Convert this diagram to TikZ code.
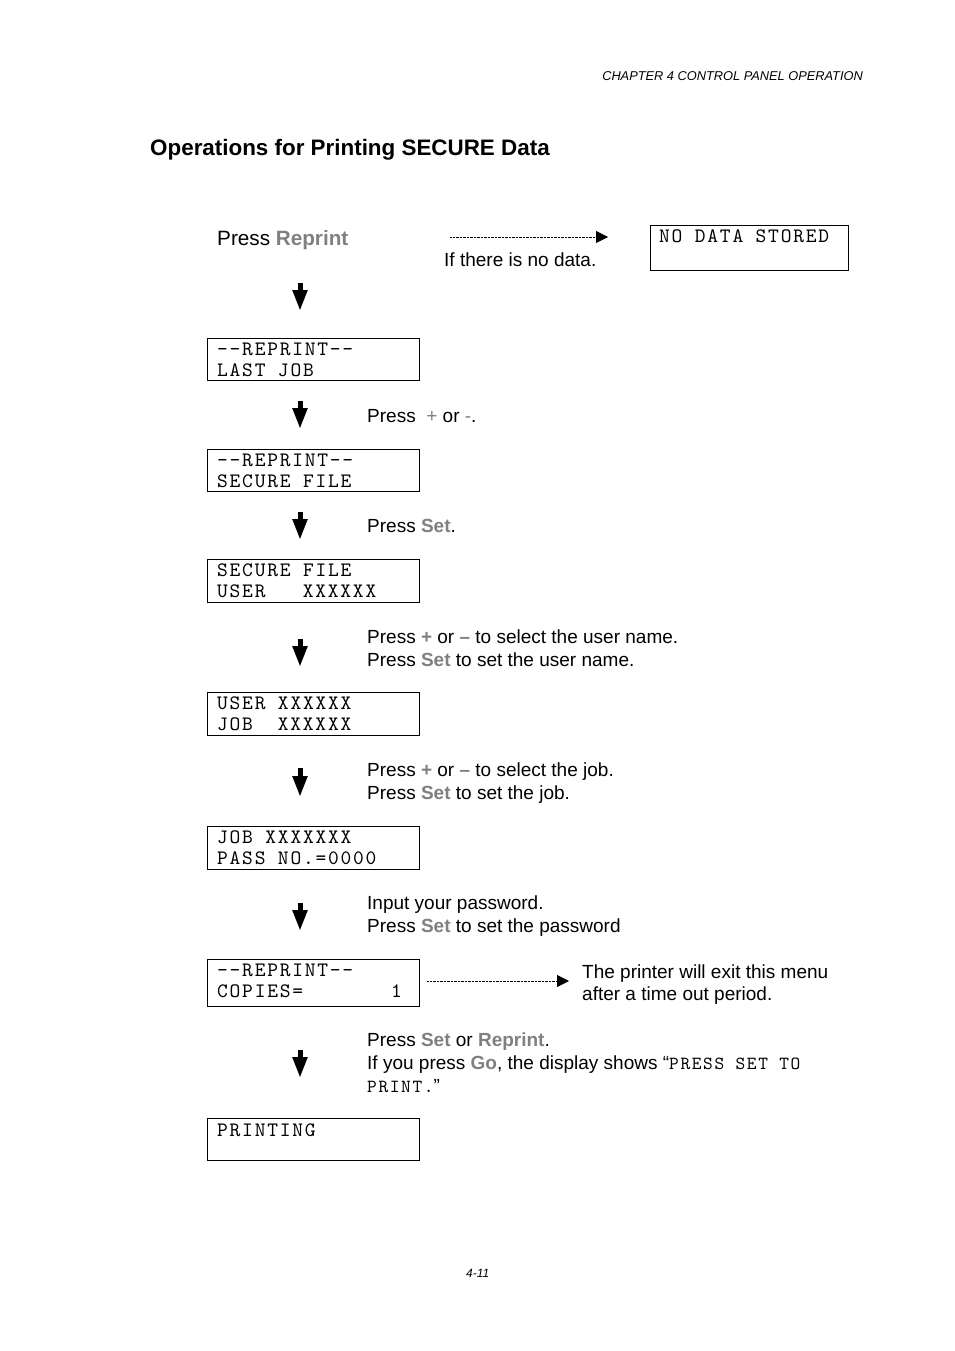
\documentclass[tikz,border=0pt]{standalone}
\usepackage{fontspec}
\setmainfont{Liberation Sans}
\newfontfamily\lcdfont{lmmono10-regular.otf}[LetterSpace=8.6]
\newfontfamily\lcdsmall{lmmono10-regular.otf}[LetterSpace=8.8]
\usetikzlibrary{arrows.meta}
\definecolor{keygray}{RGB}{128,128,128}
\newcommand\key[1]{\textcolor{keygray}{\bfseries #1}}
\newcommand\lsp{\hspace*{12.45pt}}
\newcommand\ssp{\hspace*{11.33pt}}
\tikzset{
  lcdbox/.style={draw, line width=0.9pt, minimum width=212pt, minimum height=42pt, inner sep=0pt, anchor=north west},
  lcd/.style={font=\lcdfont\fontsize{20.5}{21}\selectfont, anchor=base west, inner sep=0pt},
  body/.style={font=\fontsize{19}{23}\selectfont, anchor=base west, inner sep=0pt},
  down/.style={line width=5pt, -{Triangle[width=14pt,length=21pt]}},
  dots/.style={line width=0.8pt, dash pattern=on 0.7pt off 0.7pt, -{Triangle[width=12pt,length=12pt]}}
}
\begin{document}
\begin{tikzpicture}[x=1pt,y=-1pt]
\useasboundingbox[fill=white] (0,0) rectangle (954,1351);
% header, title, footer
\node[font=\itshape\fontsize{12.8}{14}\selectfont, anchor=base east, inner sep=0pt] (hdr) at (863,81) {CHAPTER 4 CONTROL PANEL OPERATION};
\node[font=\bfseries\fontsize{22.4}{26}\selectfont, anchor=base west, inner sep=0pt] (title) at (150,156) {Operations for Printing SECURE Data};
\node[font=\itshape\fontsize{12}{14}\selectfont, anchor=base west, inner sep=0pt] (ftr) at (466,1277) {4-11};

% top row
\node[body, font=\fontsize{20.7}{24}\selectfont] (press) at (217,245) {Press \key{Reprint}};
\coordinate (n0s) at (450,237);
\coordinate (n0e) at (608,237);
\draw[dots] (n0s) -- (n0e);
\node[body] (nodata) at (444,266) {If there is no data.};
\node[lcdbox, minimum width=198pt, minimum height=45pt] (bnd) at (650,225) {};
\node[lcd] (bndt) at (659,242) {NO\lsp DATA\lsp STORED};

% boxes
\node[lcdbox] (b1) at (207,338) {};
\node[lcd] (b1a) at (217,355) {-{}-REPRINT-{}-};
\node[lcd] (b1b) at (217,376) {LAST\lsp JOB};

\node[lcdbox] (b2) at (207,449) {};
\node[lcd] (b2a) at (217,466) {-{}-REPRINT-{}-};
\node[lcd] (b2b) at (217,487) {SECURE\lsp FILE};

\node[lcdbox, minimum height=43pt] (b3) at (207,559) {};
\node[lcd] (b3a) at (217,576) {SECURE\lsp FILE};
\node[lcd] (b3b) at (217,597) {USER\lsp\lsp\lsp XXXXXX};

\node[lcdbox, minimum height=43pt] (b4) at (207,692) {};
\node[lcd] (b4a) at (217,709) {USER\lsp XXXXXX};
\node[lcd] (b4b) at (217,730) {JOB\lsp\lsp XXXXXX};

\node[lcdbox, minimum height=43pt] (b5) at (207,826) {};
\node[lcd] (b5a) at (217,843) {JOB\lsp XXXXXXX};
\node[lcd] (b5b) at (217,864) {PASS\lsp NO.=0000};

\node[lcdbox, minimum height=47pt] (b6) at (207,959) {};
\node[lcd] (b6a) at (217,976) {-{}-REPRINT-{}-};
\node[lcd] (b6b) at (217,997) {COPIES=};
\node[lcd] (b6c) at (391,997) {1};

\node[lcdbox] (b7) at (207,1118) {};
\node[lcd] (b7a) at (217,1136) {PRINTING};

% down arrows
\coordinate (d0s) at (300,283); \coordinate (d0e) at (300,311);
\coordinate (d1s) at (300,401); \coordinate (d1e) at (300,429);
\coordinate (d2s) at (300,512); \coordinate (d2e) at (300,540);
\coordinate (d3s) at (300,639); \coordinate (d3e) at (300,667);
\coordinate (d4s) at (300,768); \coordinate (d4e) at (300,797);
\coordinate (d5s) at (300,903); \coordinate (d5e) at (300,931);
\coordinate (d6s) at (300,1050); \coordinate (d6e) at (300,1078);
\foreach \i in {0,...,6} {\draw[down] (d\i s) -- (d\i e);}

% instructions
\node[body] (t1) at (367,422) {Press \ \textcolor{keygray}{+} or \textcolor{keygray}{-}.};
\node[body] (t2) at (367,532) {Press \key{Set}.};
\node[body] (t3a) at (367,643) {Press \key{+} or \key{--} to select the user name.};
\node[body] (t3b) at (367,666) {Press \key{Set} to set the user name.};
\node[body] (t4a) at (367,776) {Press \key{+} or \key{--} to select the job.};
\node[body] (t4b) at (367,799) {Press \key{Set} to set the job.};
\node[body] (t5a) at (367,909) {Input your password.};
\node[body] (t5b) at (367,932) {Press \key{Set} to set the password};

\coordinate (n1s) at (427,981);
\coordinate (n1e) at (569,981);
\draw[dots] (n1s) -- (n1e);
\node[body] (t6a) at (582,978) {The printer will exit this menu};
\node[body] (t6b) at (582,1000) {after a time out period.};

\node[body] (t7a) at (367,1046) {Press \key{Set} or \key{Reprint}.};
\node[body] (t7b) at (367,1069) {If you press \key{Go}, the display shows \char"201C{\lcdsmall\fontsize{18.5}{19}\selectfont PRESS\ssp SET\ssp TO}};
\node[body] (t7c) at (367,1092) {{\lcdsmall\fontsize{18.5}{19}\selectfont PRINT.}\char"201D};
\end{tikzpicture}
\end{document}
